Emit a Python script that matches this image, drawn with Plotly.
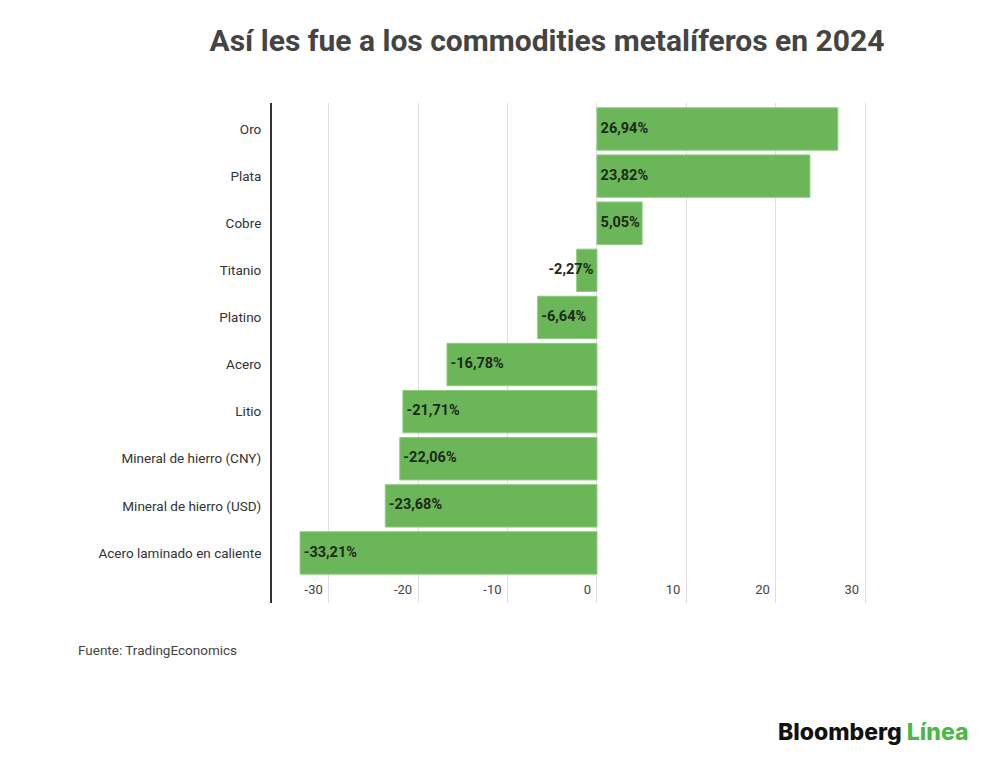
import plotly.graph_objects as go

categories = ["Oro", "Plata", "Cobre", "Titanio", "Platino", "Acero", "Litio",
              "Mineral de hierro (CNY)", "Mineral de hierro (USD)", "Acero laminado en caliente"]
values = [26.94, 23.82, 5.05, -2.27, -6.64, -16.78, -21.71, -22.06, -23.68, -33.21]
labels = ["26,94%", "23,82%", "5,05%", "-2,27%", "-6,64%", "-16,78%", "-21,71%",
          "-22,06%", "-23,68%", "-33,21%"]
x_ticks = [-30, -20, -10, 0, 10, 20, 30]

GREEN = "#6ab658"
TXT = "#333333"

# figure coordinates (page is offset by 8px body margin)
W, H = 992, 755
PL, PR, PT, PB = 264, 862, 95, 595
PW, PH = PR - PL, PB - PT

fig = go.Figure()
fig.add_trace(go.Bar(
    y=categories, x=values, orientation="h",
    marker=dict(color=GREEN, line=dict(color="#8fcb80", width=1)),
    width=0.9, hoverinfo="skip", showlegend=False,
))

small = [abs(v) < 4 and v < 0 for v in values]
lab_font = dict(family="Roboto", size=14.5, color="#1c2a18", weight="bold")
fig.add_trace(go.Scatter(
    y=[c for c, s in zip(categories, small) if not s],
    x=[min(0, v) for v, s in zip(values, small) if not s],
    text=[" " + l for l, s in zip(labels, small) if not s],
    mode="text", textposition="middle right", textfont=lab_font,
    hoverinfo="skip", showlegend=False,
))
fig.add_trace(go.Scatter(
    y=[c for c, s in zip(categories, small) if s],
    x=[0 for v, s in zip(values, small) if s],
    text=[l + " " for l, s in zip(labels, small) if s],
    mode="text", textposition="middle left", textfont=lab_font,
    hoverinfo="skip", showlegend=False,
))

fig.update_layout(
    width=W, height=H,
    margin=dict(l=PL, r=W - PR, t=PT, b=H - PB),
    paper_bgcolor="white", plot_bgcolor="white",
    font=dict(family="Roboto", color=TXT),
    title=dict(text="<b>Así les fue a los commodities metalíferos en 2024</b>",
               x=539 / W, xanchor="center", y=1 - 32 / H, yanchor="middle",
               font=dict(family="Roboto", size=30, color="#444444")),
    bargap=0.1,
)
fig.update_xaxes(
    range=[-36.35, 30.54], tickvals=x_ticks, ticktext=[str(t) for t in x_ticks],
    showgrid=True, gridcolor="#dedede", gridwidth=1,
    zeroline=True, zerolinecolor="#dedede", zerolinewidth=1,
    ticklabelposition="inside left", ticks="", ticklabelshift=-6,
    tickfont=dict(family="Roboto", size=13, color="#444444"),
    showline=False, fixedrange=True,
)
fig.update_yaxes(
    categoryorder="array", categoryarray=categories[::-1],
    range=[-1.062, 9.552],
    showgrid=False, zeroline=False,
    showline=True, linecolor="#333333", linewidth=2,
    ticks="", ticklabelstandoff=6,
    tickfont=dict(family="Roboto", size=13.5, color=TXT),
    fixedrange=True,
)

fig.add_annotation(text="Fuente: TradingEconomics", xref="paper", yref="paper",
                   x=(68 - PL) / PW, y=-(642 - PB) / PH, xanchor="left", yanchor="middle",
                   showarrow=False, font=dict(family="Roboto", size=13.5, color="#444444"))
fig.add_annotation(text="Bloomberg <span style='color:#4cb848'>Línea</span>",
                   xref="paper", yref="paper",
                   x=(963 - PL) / PW, y=-(724 - PB) / PH, xanchor="right", yanchor="middle",
                   showarrow=False,
                   font=dict(family="Inter", size=23, color="#111111", weight=800))

fig.write_html("out.html")
